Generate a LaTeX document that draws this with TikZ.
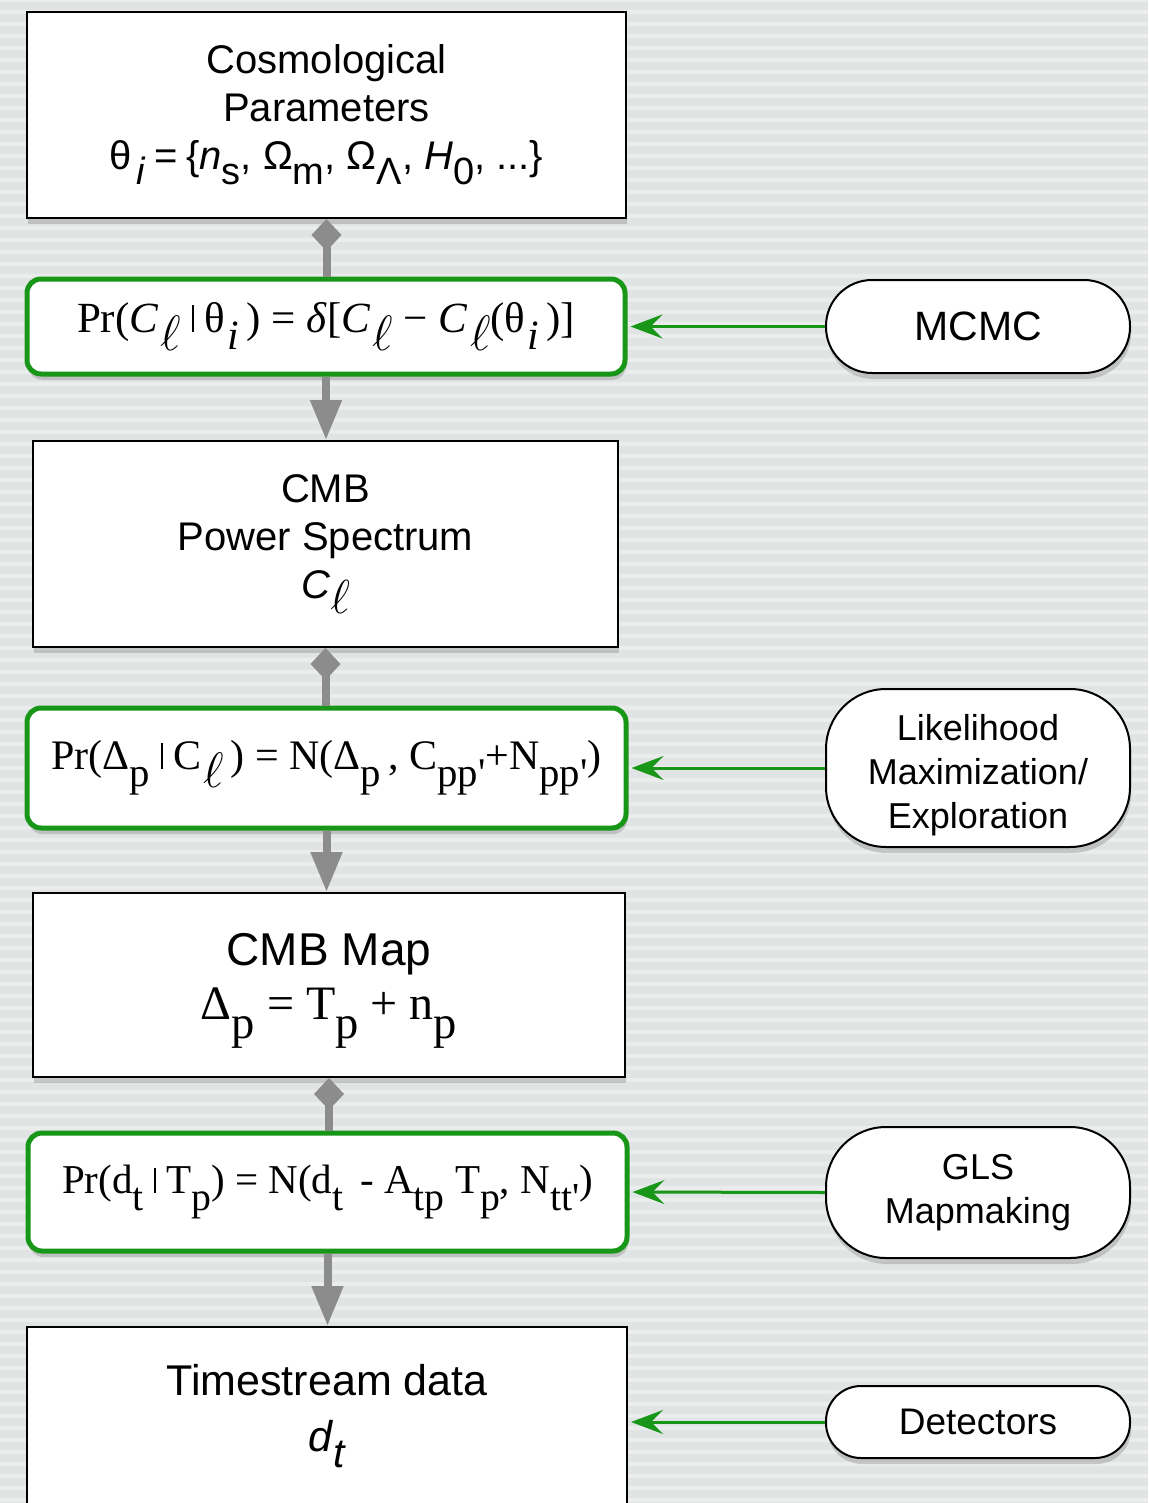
\documentclass[tikz,border=0pt]{standalone}
\usepackage{fontspec}
\setmainfont{Liberation Sans}
\newfontfamily\tms{Liberation Serif}
\usepackage{graphicx}
\usetikzlibrary{arrows.meta,shadows}
\newcommand\lo[2][0.88]{\raisebox{-0.38em}{\scalebox{#1}{#2}}}
\newcommand\tsub[1]{\raisebox{-0.4em}{\scalebox{0.97}{#1}}}
\newcommand\ellsub{\raisebox{-0.42em}{\scalebox{1.2}{$\ell$}}}
\newcommand\cbar{\hspace{0.25em}\rule[0.02em]{0.05em}{0.62em}\hspace{0.25em}}
\definecolor{grn}{RGB}{24,150,24}
\definecolor{gry}{RGB}{140,140,140}
\definecolor{bgc}{RGB}{225,228,228}
\tikzset{
  shad/.style={drop shadow={shadow xshift=0.6pt, shadow yshift=-3pt, opacity=0.35}},
  box/.style={draw=black, line width=1pt, fill=white, align=center, shad,
    font=\fontsize{20}{24}\selectfont, inner sep=0pt},
  gbox/.style={draw=grn, line width=2.5pt, rounded corners=7pt, fill=white, shad,
    font=\tms\fontsize{21.5}{24}\selectfont, inner sep=0pt},
  oval/.style={draw=black, line width=1pt, fill=white, align=center, shad,
    minimum width=152pt, inner sep=0pt, font=\fontsize{18}{22}\selectfont},
  diam/.style={draw=gry, line width=4pt, {Diamond[length=16pt,width=15pt]}-},
  tri/.style={draw=gry, line width=4pt, -{Triangle[length=20pt,width=15pt]}},
  garr/.style={draw=grn, line width=1.5pt, -{Stealth[length=16pt,width=12pt,inset=6pt]}, shorten >=1.5pt},
  plain/.style={inner sep=0pt, align=center}
}
\begin{document}
\begin{tikzpicture}[x=0.5pt,y=-0.5pt]
\useasboundingbox (0,0) rectangle (1148,1503);
\clip (0,0) rectangle (1148,1503);
\fill[bgc] (0,0) rectangle (1148,1503);
\foreach \yy in {0,12,...,1500} \draw[white, opacity=0.35, line width=2pt] (0,\yy) -- (1148,\yy);

% main column
\node[box, minimum width=299.5pt, minimum height=103pt] (b1) at (326.5,115)
  {Cosmological\\Parameters\\{\fontsize{20}{24}\selectfont θ\hspace{0.12em}\lo[0.95]{\textit{i}}\hspace{0.22em}=\hspace{0.2em}\{\textit{n}\lo[0.95]{s}, Ω\lo[0.95]{m}, Ω\lo[0.95]{Λ}, \textit{H}\lo[0.95]{0}, ...\}}};
\node[gbox, minimum width=299pt, minimum height=47.5pt] (g1) at (326,326.5)
  {Pr(\textit{C}\hspace{0.05em}\ellsub\cbar θ\hspace{0.05em}\tsub{\textit{i}}\,) = \textit{δ}[\textit{C}\hspace{0.05em}\ellsub\ − \textit{C}\hspace{0.05em}\ellsub(θ\hspace{0.05em}\tsub{\textit{i}}\,)]};
\node[box, minimum width=292.5pt, minimum height=103pt] (b3) at (325.5,544)
  {CMB\\Power Spectrum\\\textit{C}\lo[1.15]{$\ell$}};
\node[gbox, minimum width=299.5pt, minimum height=60pt, font=\tms\fontsize{21}{24}\selectfont] (g2) at (326.5,768)
  {Pr(Δ\tsub{p}\cbar C\hspace{0.05em}\ellsub\,) = N(Δ\tsub{p}\,, C\tsub{pp'}+N\tsub{pp'})};
\node[box, minimum width=296pt, minimum height=92pt] (b5) at (329,985) {};
\node[plain] (t5) at (329,991)
  {{\fontsize{23}{28}\selectfont CMB Map}\\[5pt]{\tms\fontsize{24}{28}\selectfont Δ\tsub{p} = T\tsub{p} + n\tsub{p}}};
\node[gbox, minimum width=299.5pt, minimum height=59pt, font=\tms\fontsize{20.5}{24}\selectfont] (g3) at (327.5,1192)
  {Pr(d\tsub{t}\cbar T\tsub{p}) = N(d\tsub{t}\, - A\tsub{tp} T\tsub{p}, N\tsub{tt'})};
\node[box, anchor=north, minimum width=300pt, minimum height=110pt] (b7) at (327,1326) {};
\node[plain, font=\fontsize{21.5}{28}\selectfont] (t7) at (327,1416)
  {Timestream data\\\textit{d}\lo[0.95]{\textit{t}}};

% right column
\node[oval, minimum height=46.5pt, rounded corners=23pt, font=\fontsize{20.5}{24}\selectfont] (mc) at (978,326.5) {MCMC};
\node[oval, minimum height=79pt, rounded corners=30pt] (lk) at (978,768) {\rule{0pt}{1.1em}Likelihood\\Maximization/\\Exploration};
\node[oval, minimum height=65.5pt, rounded corners=30pt] (gl) at (978,1192.5) {GLS\\Mapmaking};
\node[oval, minimum height=36pt, rounded corners=17.5pt, font=\fontsize{18.5}{22}\selectfont] (dt) at (978,1422) {Detectors};

% gray connectors
\draw[diam] (b1.south) -- (b1.south |- g1.north);
\draw[tri] (g1.south) -- (g1.south |- b3.north);
\draw[diam] (b3.south) -- (b3.south |- g2.north);
\draw[tri] (g2.south) -- (g2.south |- b5.north);
\draw[diam] (b5.south) -- (b5.south |- g3.north);
\draw[tri] (g3.south) -- (g3.south |- b7.north);

% green arrows
\draw[garr] (mc.west) -- (g1.east);
\draw[garr] (lk.west) -- (g2.east);
\draw[garr] (gl.west) -- (g3.east);
\draw[garr] (dt.west) -- (dt.west -| b7.east);
\end{tikzpicture}
\end{document}
